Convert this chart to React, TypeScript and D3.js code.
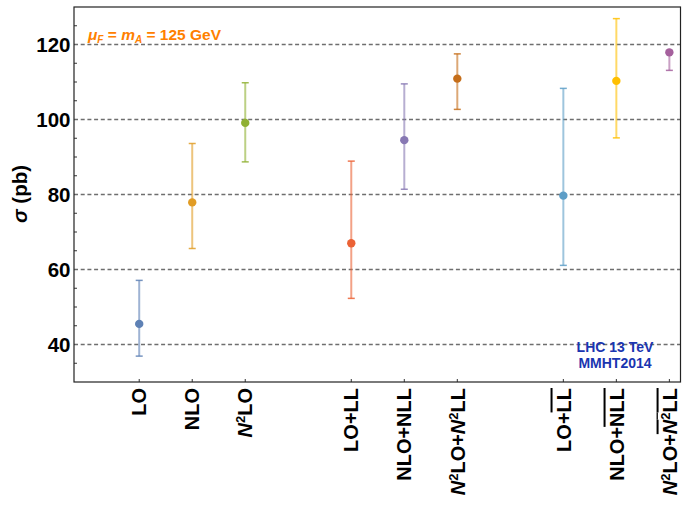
import { range, scaleLinear } from "d3";
import React from "react";

// categories, "^2" = superscript 2 on an italic N, [..] = overlined part
const categories = [
  "LO",
  "NLO",
  "N^2LO",
  "LO+LL",
  "NLO+NLL",
  "N^2LO+N^2LL",
  "LO+[LL]",
  "NLO+[NLL]",
  "N^2LO+[N^2LL]",
];
const positions = [1, 2, 3, 5, 6, 7, 9, 10, 11];
const central = [45.5, 77.9, 99.1, 67.0, 94.5, 110.9, 79.7, 110.3, 117.9];
const lower = [36.9, 65.6, 88.7, 52.3, 81.4, 102.7, 61.1, 95.1, 113.1];
const upper = [57.1, 93.6, 109.8, 88.9, 109.5, 117.5, 108.3, 126.9, 118.4];
const colors = [
  "#5E81B5",
  "#E19C24",
  "#8FB032",
  "#EB6235",
  "#8778B3",
  "#C56E1A",
  "#5D9EC7",
  "#FFBF00",
  "#A5609D",
];
const yTicks = [40, 60, 80, 100, 120];

const W = 682;
const H = 507;
const FONT = "'Liberation Sans', Arial, sans-serif";

const renderPart = (s: string, key: string) => {
  const out: React.ReactNode[] = [];
  const bits = s.split(/(N\^2)/);
  bits.forEach((b, i) => {
    if (!b) return;
    if (b === "N^2") {
      out.push(
        <tspan key={`${key}-${i}n`} fontStyle="italic">
          N
        </tspan>,
        <tspan key={`${key}-${i}s`} fontSize="0.65em" baselineShift="super">
          2
        </tspan>,
      );
    } else out.push(<tspan key={`${key}-${i}`}>{b}</tspan>);
  });
  return out;
};

const renderLabel = (label: string) => {
  const m = label.match(/^(.*)\[(.*)\]$/);
  if (!m) return renderPart(label, "a");
  return [
    ...renderPart(m[1]!, "a"),
    <tspan key="ov" textDecoration="overline">
      {renderPart(m[2]!, "b")}
    </tspan>,
  ];
};

const Chart = () => {
  const left = 74;
  const right = 680.5;
  const top = 7;
  const bottom = 382;

  const x = scaleLinear().domain([-0.23, 11.21]).range([left, right]);
  const y = scaleLinear().domain([30, 130]).range([bottom, top]);

  const minor = range(35, 130, 5).filter((v) => v % 20 !== 0);

  return (
    <svg
      width={W}
      height={H}
      style={{ position: "absolute", left: 0, top: 0 }}
      fontFamily={FONT}
    >
      <rect width={W} height={H} fill="white" />
      {yTicks.map((t) => (
        <line
          key={t}
          x1={left}
          x2={right}
          y1={y(t)}
          y2={y(t)}
          stroke="#6e6e6e"
          strokeWidth={1.6}
          strokeDasharray="4 2.7"
        />
      ))}
      {minor.map((t) => (
        <line key={t} x1={left} x2={left + 3} y1={y(t)} y2={y(t)} stroke="#333" />
      ))}
      {positions.map((p) => (
        <line key={p} x1={x(p)} x2={x(p)} y1={bottom} y2={bottom - 3} stroke="#333" />
      ))}
      <rect
        x={left}
        y={top}
        width={right - left}
        height={bottom - top}
        fill="none"
        stroke="#222"
        strokeWidth={1.2}
      />

      {positions.map((p, i) => {
        const cx = x(p);
        const c = colors[i]!;
        return (
          <g key={p}>
            <line
              x1={cx}
              x2={cx}
              y1={y(lower[i]!)}
              y2={y(upper[i]!)}
              stroke={c}
              strokeOpacity={0.6}
              strokeWidth={2}
            />
            {[lower[i]!, upper[i]!].map((v, j) => (
              <line
                key={j}
                x1={cx - 3.5}
                x2={cx + 3.5}
                y1={y(v)}
                y2={y(v)}
                stroke={c}
                strokeOpacity={0.85}
                strokeWidth={1.5}
              />
            ))}
            <circle cx={cx} cy={y(central[i]!)} r={4.2} fill={c} />
          </g>
        );
      })}

      {yTicks.map((t) => (
        <text
          key={t}
          x={70.5}
          y={y(t)}
          dy="0.36em"
          textAnchor="end"
          fontSize={20.5}
          fontWeight="bold"
        >
          {t}
        </text>
      ))}

      <text
        transform="translate(27,194) rotate(-90)"
        textAnchor="middle"
        fontSize={20.5}
        fontWeight="bold"
      >
        <tspan fontStyle="italic">σ</tspan> (pb)
      </text>

      {categories.map((c, i) => (
        <text
          key={c}
          transform={`translate(${x(positions[i]!)},388) rotate(-90)`}
          dy="0.36em"
          textAnchor="end"
          fontSize={20}
          fontWeight="bold"
        >
          {renderLabel(c)}
        </text>
      ))}

      <text x={88} y={39.5} fontSize={15.5} fontWeight="bold" fill="#FF8000">
        <tspan fontStyle="italic">μ</tspan>
        <tspan fontSize={10} fontStyle="italic" dy={3}>
          F
        </tspan>
        <tspan dy={-3}> = </tspan>
        <tspan fontStyle="italic">m</tspan>
        <tspan fontSize={10} fontStyle="italic" dy={3}>
          A
        </tspan>
        <tspan dy={-3}> = 125 GeV</tspan>
      </text>

      <text x={615} y={352} textAnchor="middle" fontSize={14} fontWeight="bold" fill="#1a35b0">
        LHC 13 TeV
      </text>
      <text x={615} y={368} textAnchor="middle" fontSize={14} fontWeight="bold" fill="#1a35b0">
        MMHT2014
      </text>
    </svg>
  );
};

export default function App() {
  return <Chart />;
}
